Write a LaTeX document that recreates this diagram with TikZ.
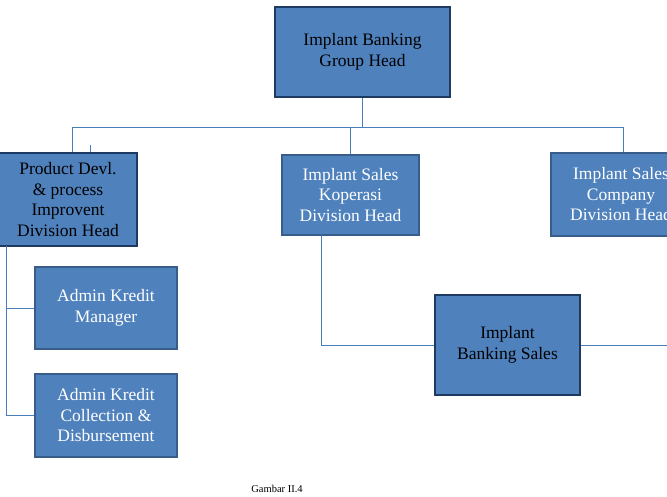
\documentclass[tikz,border=0pt]{standalone}
\usepackage{fontspec}
\setmainfont{Liberation Serif}
\usetikzlibrary{positioning}

\definecolor{boxfill}{HTML}{4F81BD}
\definecolor{boxdark}{HTML}{1F3A60}
\definecolor{boxline}{HTML}{385D8A}
\definecolor{wire}{HTML}{4A7EBB}

\begin{document}
\begin{tikzpicture}[
	  x=1pt, y=-1pt,
	  boxfont/.style={font=\fontsize{17.5}{20.5}\selectfont},
	  headbox/.style={rectangle, boxfont, align=center, fill=boxfill, draw=boxdark, line width=2.4pt, text=black, inner sep=2pt},
	  unitbox/.style={rectangle, boxfont, align=center, fill=boxfill, draw=boxline, line width=1.2pt, text=white, inner sep=2pt},
	  wire/.style={draw=wire, line width=0.9pt}
	]

	\useasboundingbox (0,0) rectangle (667,496);

	\node (head) [headbox, minimum width=175pt, minimum height=90pt] at (362.5,52) {Implant Banking\\Group Head};
	\node (prod) [headbox, minimum width=138pt, minimum height=93pt] at (68,199.5) {Product Devl.\\\& process\\Improvent\\Division Head};
	\node (kop) [unitbox, minimum width=137pt, minimum height=80pt] at (350.5,195) {Implant Sales\\Koperasi\\Division Head};
	\node (comp) [unitbox, minimum width=140pt, minimum height=83pt] at (621,194.5) {Implant Sales\\Company\\Division Head};
	\node (akm) [unitbox, minimum width=142pt, minimum height=82pt] at (106,308) {Admin Kredit\\Manager};
	\node (akc) [unitbox, minimum width=142pt, minimum height=83pt] at (106,415.5) {Admin Kredit\\Collection \&\\Disbursement};
	\node (ibs) [headbox, minimum width=145pt, minimum height=100pt] at (507.5,345) {Implant\\Banking Sales};
	\node (cap) [font=\fontsize{10.5}{12}\selectfont] at (277,489) {Gambar II.4};

	\coordinate (busL) at (72,127);
	\coordinate (busR) at (623,127);
	\coordinate (tick) at (90,145);
	\coordinate (trunk) at (6,246);
	\coordinate (kdrop) at (321,235);
	\coordinate (edge) at (667,348);

	\draw [wire] (busL) -- (busR);
	\draw [wire] (head) -- (head |- busL);
	\draw [wire] (busL) -- (busL |- prod.north);
	\draw [wire] (tick) -- (tick |- prod.north);
	\draw [wire] (kop.north) -- (kop.north |- busL);
	\draw [wire] (busR) -- (busR |- comp.north);
	\draw [wire] (trunk) |- (akc.west);
	\draw [wire] (trunk |- akm.west) -- (akm.west);
	\draw [wire] (kdrop) |- (ibs.west);
	\draw [wire] (ibs.east) -- (ibs.east -| edge);

\end{tikzpicture}
\end{document}
